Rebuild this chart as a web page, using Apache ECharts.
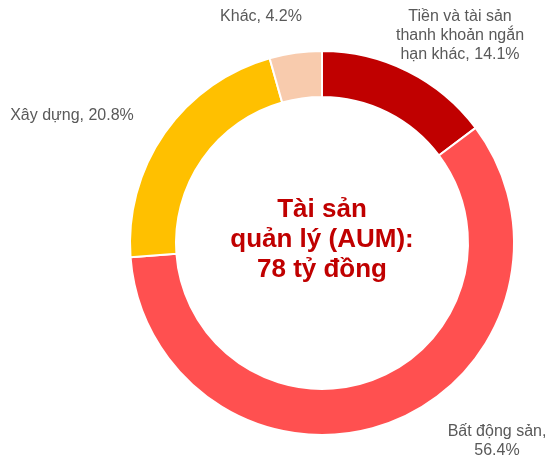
<!DOCTYPE html>
<html><head><meta charset="utf-8">
<script src="https://cdn.jsdelivr.net/npm/echarts@6/dist/echarts.min.js"></script>
<style>html,body{margin:0;padding:0;background:#fff}#c{width:550px;height:455px}</style>
</head><body><div id="c"></div>
<script>
const categories = ['Tiền và tài sản\nthanh khoản ngắn\nhạn khác', 'Bất động sản', 'Xây dựng', 'Khác'];
const values = [14.1, 56.4, 20.8, 4.2];
const colors = ['#C00000', '#FF5050', '#FFC000', '#F8CBAD'];
const centerText = 'Tài sản\nquản lý (AUM):\n78 tỷ đồng';

const labelPos = [
  {x: 460, y: 36},
  {x: 497, y: 441},
  {x: 72, y: 116},
  {x: 261, y: 17}
];

const chart = echarts.init(document.getElementById('c'), null, {renderer: 'canvas'});
chart.setOption({
  animation: false,
  graphic: [{
    type: 'text', x: 322, y: 240,
    style: {
      text: centerText, align: 'center', verticalAlign: 'middle',
      font: 'bold 26px "Liberation Sans", Arial, sans-serif', fill: '#C00000', lineHeight: 30
    }
  }],
  series: [{
    type: 'pie',
    center: [322, 243],
    radius: [146, 192],
    startAngle: 90,
    clockwise: true,
    itemStyle: {borderColor: '#fff', borderWidth: 2},
    labelLine: {show: false},
    label: {
      show: true, position: 'outside', color: '#595959', overflow: 'none', width: 300, align: 'center',
      fontFamily: '"Liberation Sans", Arial, sans-serif', fontSize: 16, lineHeight: 19,
      formatter: p => p.dataIndex === 1 ? p.name + ',\n' + p.value.toFixed(1) + '%' : p.name + ', ' + p.value.toFixed(1) + '%'
    },
    labelLayout: p => ({x: labelPos[p.dataIndex].x, y: labelPos[p.dataIndex].y, align: 'center', verticalAlign: 'middle'}),
    data: categories.map((c, i) => ({name: c, value: values[i], itemStyle: {color: colors[i]}}))
  }]
});
</script></body></html>
